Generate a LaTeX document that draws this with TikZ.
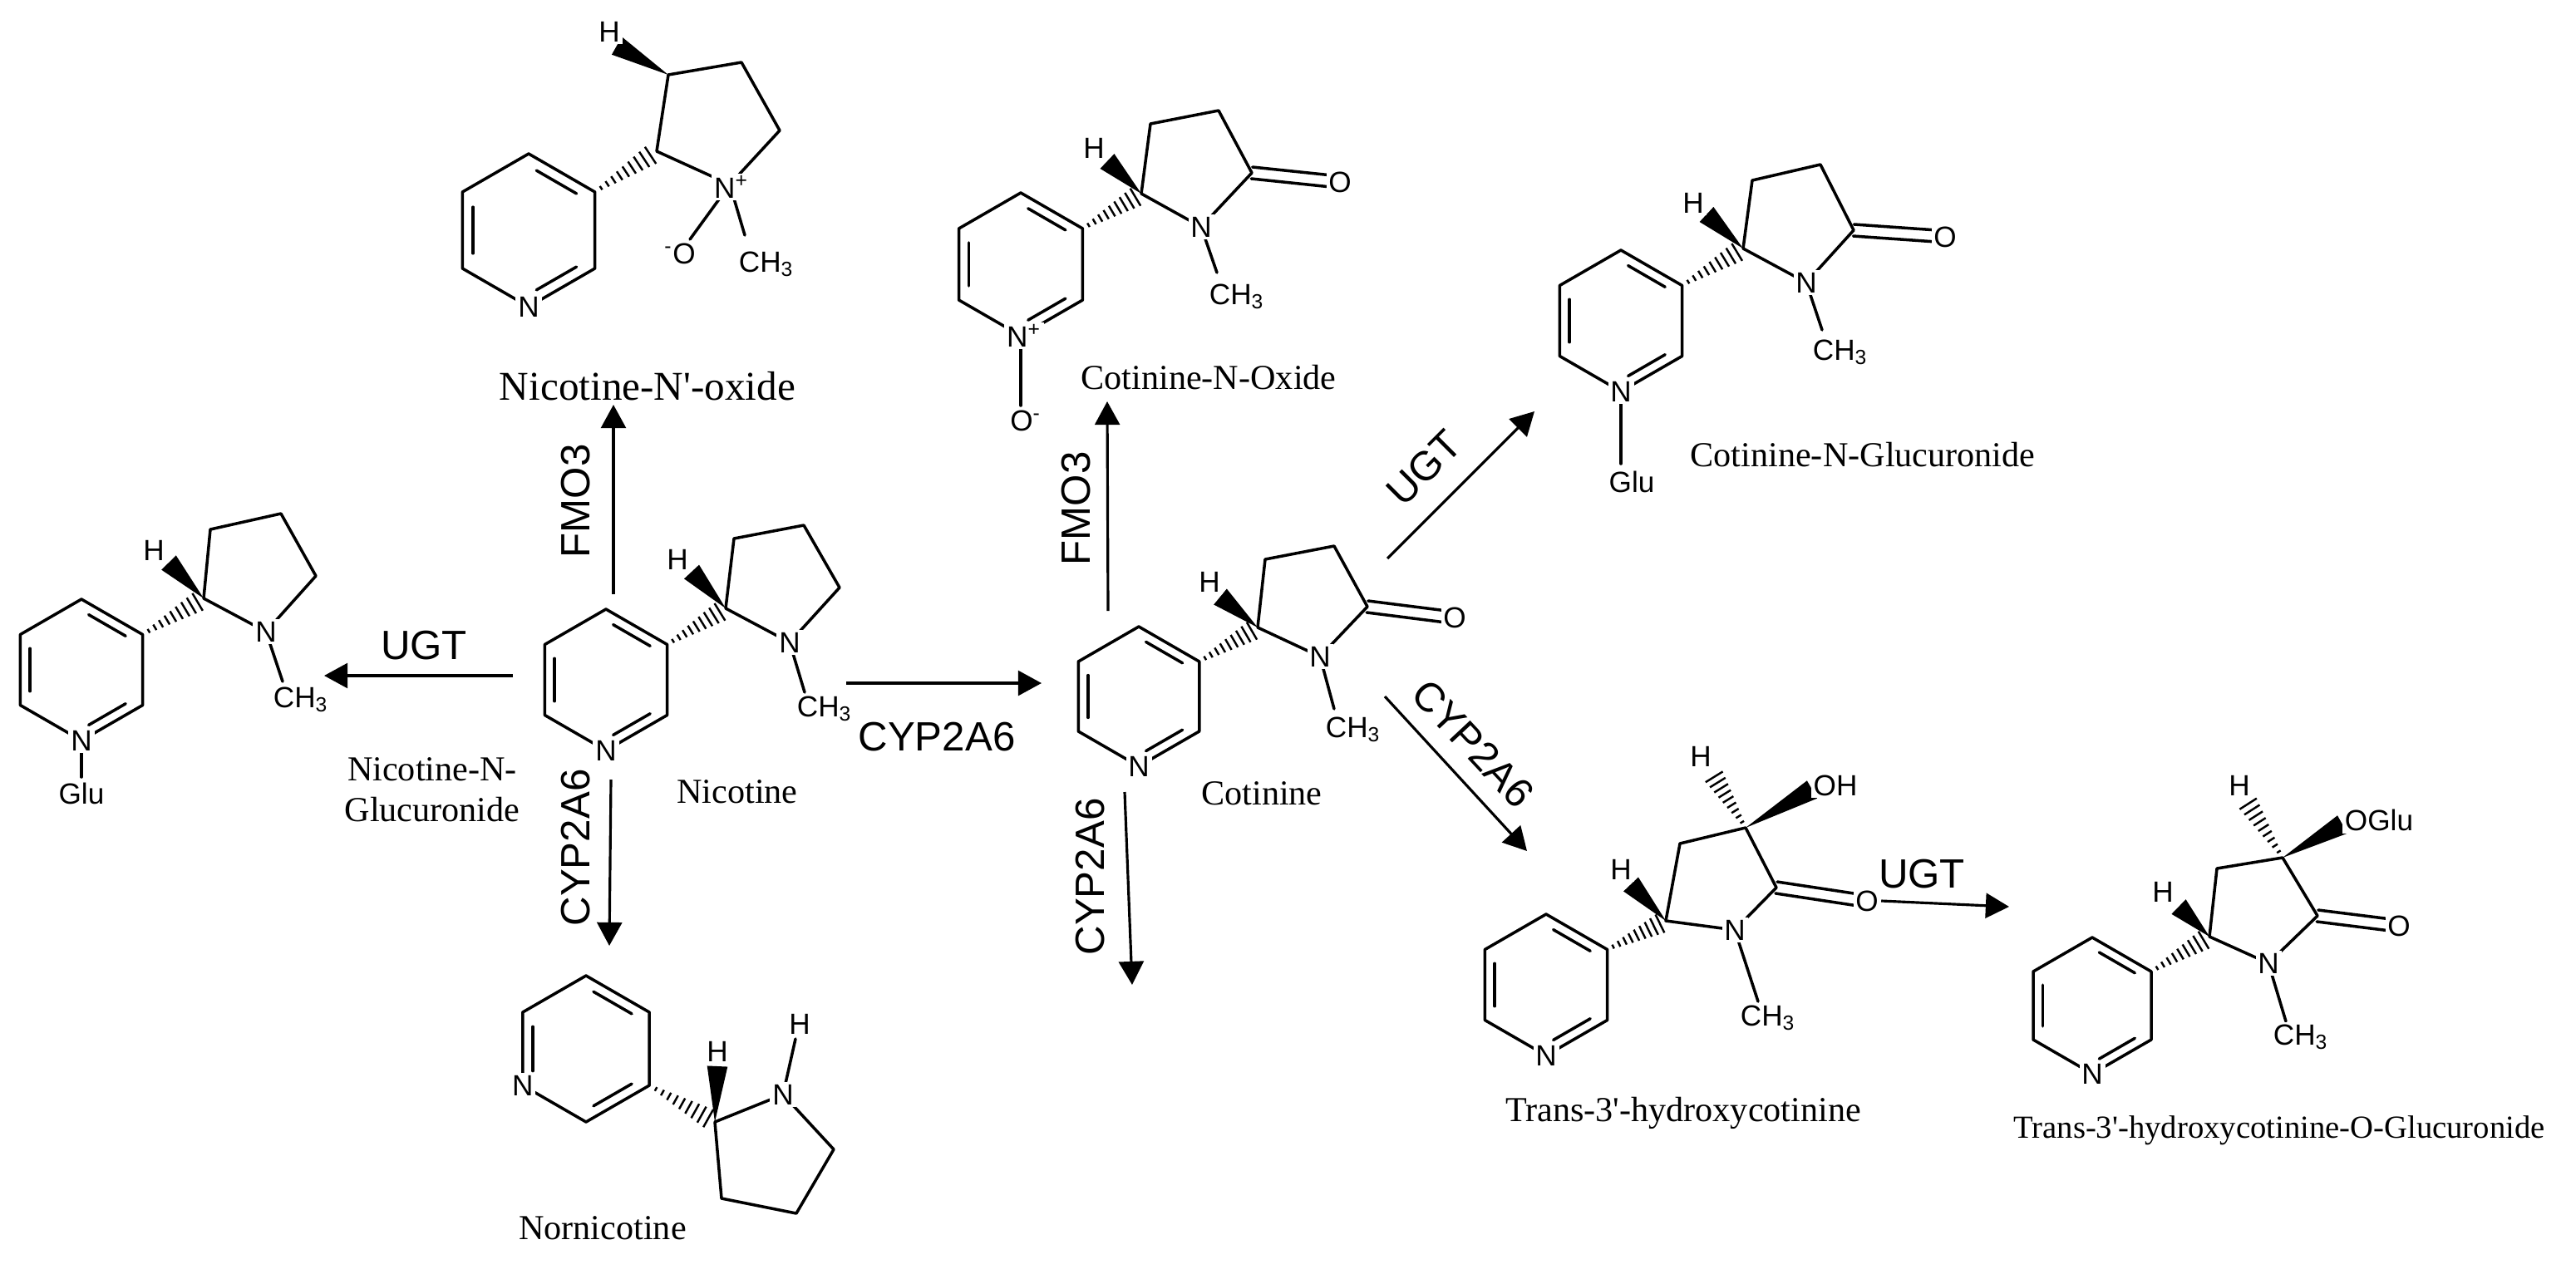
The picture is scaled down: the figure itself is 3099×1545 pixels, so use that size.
\documentclass[tikz,border=0pt]{standalone}
\usepackage{fontspec}
\setmainfont{Liberation Serif}
\newfontfamily\sansf{Liberation Sans}
\usetikzlibrary{calc,arrows.meta}
\newcommand\atomfont{\sansf\fontsize{10}{12}\selectfont}
\newcommand\enzfont{\sansf\fontsize{14}{16}\selectfont}
\newcommand\labfont{\fontsize{12}{14}\selectfont}
\tikzset{
 bond/.style={line width=1pt,line cap=round,line join=round},
 atom/.style={font=\atomfont,inner sep=0.8pt,fill=white},
 lab/.style={font=\labfont,inner sep=1pt},
 enz/.style={font=\enzfont,inner sep=0pt},
 rx/.style={line width=0.9pt,-{Triangle[length=8pt,width=8.5pt]}},
}
\newcommand\hashb[2]{\foreach \t in {0.1,0.2,0.3,0.4,0.5,0.6,0.7,0.8,0.9}{\pgfmathsetmacro\hw{0.4+\t*3.4}\draw[line width=0.7pt] ($(#1)!\t!(#2)!\hw pt!90:(#2)$) -- ($(#1)!\t!(#2)!\hw pt!-90:(#2)$);}}
\newcommand\wedgeb[2]{\fill ($(#2)!3.5pt!90:(#1)$) -- (#1) -- ($(#2)!3.5pt!-90:(#1)$) -- cycle;}
\newcommand\dbi[3]{\draw[bond] ($($(#1)!0.16!(#3)$)!0.14!($(#2)!0.16!(#3)$)$) -- ($($(#1)!0.16!(#3)$)!0.86!($(#2)!0.16!(#3)$)$);}
\newcommand\dbo[2]{\draw[bond] ($(#1)!2pt!90:(#2)$) -- ($(#2)!2pt!-90:(#1)$); \draw[bond] ($(#1)!2pt!-90:(#2)$) -- ($(#2)!2pt!90:(#1)$);}
\newcommand\pyr[4]{%
 \coordinate (#1c) at (#2,#3);
 \coordinate (#1t) at (#2,#3-#4);
 \coordinate (#1ur) at (#2+0.866*#4,#3-0.5*#4);
 \coordinate (#1lr) at (#2+0.866*#4,#3+0.5*#4);
 \coordinate (#1b) at (#2,#3+#4);
 \coordinate (#1ll) at (#2-0.866*#4,#3+0.5*#4);
 \coordinate (#1ul) at (#2-0.866*#4,#3-0.5*#4);
 \draw[bond] (#1t)--(#1ur)--(#1lr)--(#1b)--(#1ll)--(#1ul)--cycle;
 \dbi{#1t}{#1ur}{#1c}\dbi{#1lr}{#1b}{#1c}\dbi{#1ll}{#1ul}{#1c}}
\begin{document}
\begin{tikzpicture}[x=0.01cm,y=-0.01cm]
\useasboundingbox[fill=white] (0,0) rectangle (3099,1545);
% ---------- A: Nicotine-N'-oxide
\pyr{a}{636}{277}{92}
\coordinate (a2) at (790,182); \coordinate (a3) at (804,90); \coordinate (a4) at (892,75);
\coordinate (a5) at (938,157); \coordinate (aN) at (878,222);
\hashb{aur}{a2}
\draw[bond] (a2)--(a3)--(a4)--(a5)--(aN)--cycle;
\wedgeb{a3}{742,55}
\draw[bond] (aN)--(830,288); \draw[bond] (aN)--(896,283);
\node[atom] (aH) at (733,38) {H};
\node[atom] (aNp) at (880,225) {N\textsuperscript{+}};
\node[atom] (aOm) at (818,305) {\textsuperscript{-}O};
\node[atom] (aMe) at (922,318) {CH\textsubscript{3}};
\node[atom] (aNpy) at (ab) {N};
\node[lab,font=\fontsize{14}{16}\selectfont] (aL) at (779,465) {Nicotine-N\textquotesingle-oxide};
% ---------- B: Nicotine-N-Glucuronide
\pyr{b}{98}{806}{85}
\coordinate (b2) at (245,720); \coordinate (b3) at (253,637); \coordinate (b4) at (338,618);
\coordinate (b5) at (380,693); \coordinate (bN) at (320,760);
\hashb{bur}{b2}
\draw[bond] (b2)--(b3)--(b4)--(b5)--(bN)--cycle;
\wedgeb{b2}{203,677}
\draw[bond] (bN)--(340,820); \draw[bond] (bb)--(98,935);
\node[atom] (bH) at (185,662) {H};
\node[atom] (bNa) at (bN) {N};
\node[atom] (bMe) at (362,842) {CH\textsubscript{3}};
\node[atom] (bNpy) at (bb) {N};
\node[atom] (bGlu) at (98,955) {Glu};
\node[lab,align=center] (bL) at (520,950) {Nicotine-N-\\Glucuronide};
% ---------- C: Nicotine
\pyr{c}{729}{818}{85}
\coordinate (c2) at (873,732); \coordinate (c3) at (883,648); \coordinate (c4) at (967,632);
\coordinate (c5) at (1010,707); \coordinate (cN) at (950,773);
\hashb{cur}{c2}
\draw[bond] (c2)--(c3)--(c4)--(c5)--(cN)--cycle;
\wedgeb{c2}{832,688}
\draw[bond] (cN)--(968,833);
\node[atom] (cH) at (815,673) {H};
\node[atom] (cNa) at (cN) {N};
\node[atom] (cMe) at (992,853) {CH\textsubscript{3}};
\node[atom] (cNpy) at (cb) {N};
\node[lab] (cL) at (887,953) {Nicotine};
% ---------- D: Nornicotine
\pyr{d}{705}{1262}{88}
\coordinate (d2) at (860,1350); \coordinate (dN) at (942,1317); \coordinate (d5) at (1003,1383);
\coordinate (d4) at (958,1460); \coordinate (d3) at (868,1442);
\hashb{dlr}{d2}
\draw[bond] (d2)--(dN)--(d5)--(d4)--(d3)--cycle;
\wedgeb{d2}{863,1283}
\draw[bond] (dN)--(957,1250);
\node[atom] (dH) at (863,1265) {H};
\node[atom] (dNa) at (dN) {N};
\node[atom] (dHN) at (962,1232) {H};
\node[atom] (dNpy) at (dll) {N};
\node[lab] (dL) at (725,1478) {Nornicotine};
% ---------- E: Cotinine
\pyr{e}{1370}{838}{84}
\coordinate (e2) at (1513,755); \coordinate (e3) at (1522,673); \coordinate (e4) at (1605,657);
\coordinate (e5) at (1645,730); \coordinate (eN) at (1588,790); \coordinate (eO) at (1740,742);
\hashb{eur}{e2}
\draw[bond] (e2)--(e3)--(e4)--(e5)--(eN)--cycle;
\dbo{e5}{eO}
\wedgeb{e2}{1468,718}
\draw[bond] (eN)--(1605,853);
\node[atom] (eH) at (1455,700) {H};
\node[atom] (eNa) at (eN) {N};
\node[atom] (eOa) at (1750,743) {O};
\node[atom] (eMe) at (1628,878) {CH\textsubscript{3}};
\node[atom] (eNpy) at (eb) {N};
\node[lab] (eL) at (1518,955) {Cotinine};
% ---------- F: Cotinine-N-Oxide
\pyr{f}{1228}{318}{86}
\coordinate (f2) at (1373,233); \coordinate (f3) at (1384,149); \coordinate (f4) at (1466,133);
\coordinate (f5) at (1506,208); \coordinate (fN) at (1445,273); \coordinate (fO) at (1602,218);
\hashb{fur}{f2}
\draw[bond] (f2)--(f3)--(f4)--(f5)--(fN)--cycle;
\dbo{f5}{fO}
\wedgeb{f2}{1332,194}
\draw[bond] (fN)--(1464,328); \draw[bond] (fb)--(1228,488);
\node[atom] (fH) at (1316,178) {H};
\node[atom] (fNa) at (fN) {N};
\node[atom] (fOa) at (1612,219) {O};
\node[atom] (fMe) at (1488,357) {CH\textsubscript{3}};
\node[atom] (fNpy) at (1232,404) {N\textsuperscript{+}};
\node[atom] (fOm) at (1234,506) {O\textsuperscript{-}};
\node[lab] (fL) at (1454,454) {Cotinine-N-Oxide};
% ---------- G: Cotinine-N-Glucuronide
\pyr{g}{1950}{386}{85}
\coordinate (g2) at (2097,299); \coordinate (g3) at (2108,217); \coordinate (g4) at (2190,198);
\coordinate (g5) at (2230,277); \coordinate (gN) at (2173,340); \coordinate (gO) at (2330,284);
\hashb{gur}{g2}
\draw[bond] (g2)--(g3)--(g4)--(g5)--(gN)--cycle;
\dbo{g5}{gO}
\wedgeb{g2}{2053,258}
\draw[bond] (gN)--(2192,397); \draw[bond] (gb)--(1950,558);
\node[atom] (gH) at (2037,244) {H};
\node[atom] (gNa) at (gN) {N};
\node[atom] (gOa) at (2340,285) {O};
\node[atom] (gMe) at (2214,424) {CH\textsubscript{3}};
\node[atom] (gNpy) at (gb) {N};
\node[atom] (gGlu) at (1963,580) {Glu};
\node[lab] (gL) at (2241,547) {Cotinine-N-Glucuronide};
% ---------- H: Trans-3'-hydroxycotinine
\pyr{h}{1860}{1185}{85}
\coordinate (h2) at (2004,1108); \coordinate (h3) at (2021,1015); \coordinate (h4) at (2100,996);
\coordinate (h5) at (2137,1068); \coordinate (hN) at (2087,1119); \coordinate (hO) at (2236,1083);
\hashb{hur}{h2}
\draw[bond] (h2)--(h3)--(h4)--(h5)--(hN)--cycle;
\dbo{h5}{hO}
\wedgeb{h2}{1962,1064}
\hashb{h4}{2058,928}
\wedgeb{h4}{2180,950}
\draw[bond] (hN)--(2115,1205);
\node[atom] (hH) at (1950,1046) {H};
\node[atom] (hH2) at (2046,910) {H};
\node[atom] (hOH) at (2208,945) {OH};
\node[atom] (hNa) at (hN) {N};
\node[atom] (hOa) at (2246,1084) {O};
\node[atom] (hMe) at (2127,1225) {CH\textsubscript{3}};
\node[atom] (hNpy) at (hb) {N};
\node[lab] (hL) at (2025,1339) {Trans-3\textquotesingle-hydroxycotinine};
% ---------- I: O-Glucuronide
\pyr{i}{2517}{1210}{82}
\coordinate (i2) at (2658,1127); \coordinate (i3) at (2667,1045); \coordinate (i4) at (2746,1032);
\coordinate (i5) at (2788,1102); \coordinate (iN) at (2729,1159); \coordinate (iO) at (2876,1113);
\hashb{iur}{i2}
\draw[bond] (i2)--(i3)--(i4)--(i5)--(iN)--cycle;
\dbo{i5}{iO}
\wedgeb{i2}{2621,1091}
\hashb{i4}{2700,960}
\wedgeb{i4}{2818,992}
\draw[bond] (iN)--(2750,1229);
\node[atom] (iH) at (2602,1073) {H};
\node[atom] (iH2) at (2694,945) {H};
\node[atom] (iOG) at (2862,987) {OGlu};
\node[atom] (iNa) at (iN) {N};
\node[atom] (iOa) at (2886,1114) {O};
\node[atom] (iMe) at (2768,1248) {CH\textsubscript{3}};
\node[atom] (iNpy) at (ib) {N};
\node[lab,font=\fontsize{11}{13}\selectfont] (iL) at (2742,1360) {Trans-3\textquotesingle-hydroxycotinine-O-Glucuronide};
% ---------- reaction arrows
\coordinate (r1s) at (617,813); \coordinate (r1e) at (390,813);
\coordinate (r2s) at (738,715); \coordinate (r2e) at (738,487);
\coordinate (r3s) at (735,938); \coordinate (r3e) at (733,1138);
\coordinate (r4s) at (1018,822); \coordinate (r4e) at (1253,822);
\coordinate (r5s) at (1333,735); \coordinate (r5e) at (1332,483);
\coordinate (r6s) at (1353,953); \coordinate (r6e) at (1362,1185);
\coordinate (r7s) at (1669,672); \coordinate (r7e) at (1846,495);
\coordinate (r8s) at (1666,838); \coordinate (r8e) at (1837,1024);
\coordinate (r9e) at (2417,1091);
\draw[rx] (r1s)--(r1e); \draw[rx] (r2s)--(r2e); \draw[rx] (r3s)--(r3e);
\draw[rx] (r4s)--(r4e); \draw[rx] (r5s)--(r5e); \draw[rx] (r6s)--(r6e);
\draw[rx] (r7s)--(r7e); \draw[rx] (r8s)--(r8e); \draw[rx] (hOa.east)--(r9e);
\node[enz] (t1) at (510,777) {UGT};
\node[enz,rotate=90] (t2) at (693,603) {FMO3};
\node[enz,rotate=90] (t3) at (693,1020) {CYP2A6};
\node[enz] (t4) at (1127,887) {CYP2A6};
\node[enz,rotate=90] (t5) at (1295,612) {FMO3};
\node[enz,rotate=90] (t6) at (1312,1055) {CYP2A6};
\node[enz,rotate=45] (t7) at (1713,563) {UGT};
\node[enz,rotate=-47] (t8) at (1772,895) {CYP2A6};
\node[enz] (t9) at (2312,1052) {UGT};
\end{tikzpicture}
\end{document}
